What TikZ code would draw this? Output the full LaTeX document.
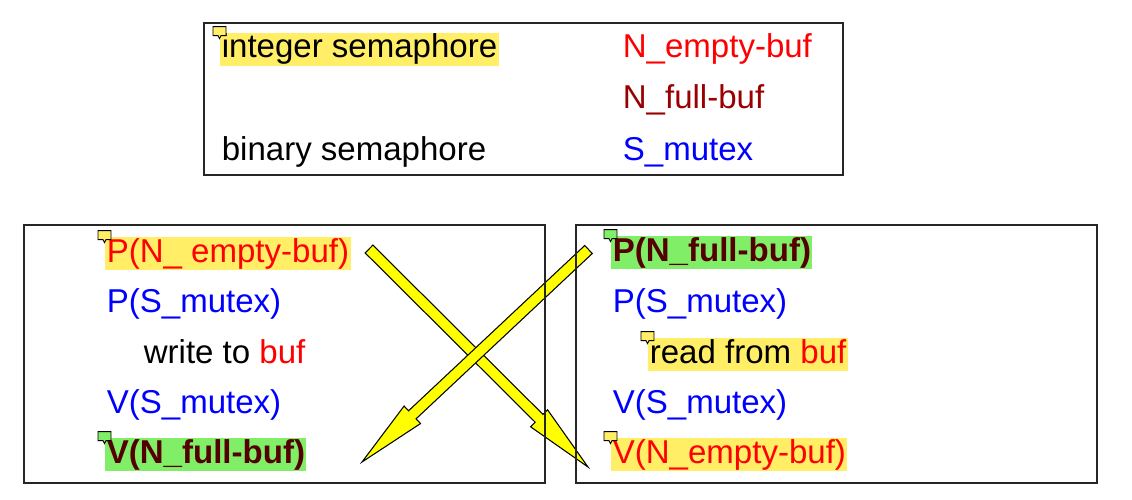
\documentclass[tikz,border=0pt]{standalone}
\usepackage{fontspec}
\setmainfont{Liberation Sans}
\usepackage{xcolor}
\usetikzlibrary{positioning,calc,fit}

\definecolor{hlyellow}{HTML}{FFEE66}
\definecolor{hlgreen}{HTML}{80EE66}
\definecolor{darkbold}{HTML}{550000}
\definecolor{fullred}{HTML}{990000}
\definecolor{mutexblue}{HTML}{0000FF}
\definecolor{arrowyellow}{HTML}{FFFF00}

% small comment marker on the corner of a highlight
\newcommand{\notemark}[2]{%
  \draw[notebox, fill=#2] ($(#1.north west)+(-7,-6)$) -- ++(13,0) -- ++(0,9)
    -- ++(-5,0) -- ++(-1.5,3) -- ++(-1.5,-3) -- ++(-5,0) -- cycle;}

% fat arrow from #1 (tail) to #2 (tip)
\newcommand{\blockarrow}[2]{%
  \coordinate (hb) at ($(#2)!1.38cm!(#1)$);
  \draw[blockarr] ($(#1)!0.11cm!90:(#2)$) -- ($(hb)!0.11cm!90:(#2)$)
    -- ($(hb)!0.24cm!90:(#2)$) -- (#2) -- ($(hb)!0.24cm!-90:(#2)$)
    -- ($(hb)!0.11cm!-90:(#2)$) -- ($(#1)!0.11cm!-90:(#2)$) -- cycle;}

\begin{document}
\begin{tikzpicture}[
    x=0.02cm, y=-0.02cm,
    txt/.style={anchor=base west, inner xsep=0.03cm, inner ysep=0pt,
      text height=0.5cm, text depth=0.16cm,
      font=\fontsize{18.8pt}{22pt}\selectfont},
    hly/.style={txt, fill=hlyellow},
    hlg/.style={txt, fill=hlgreen, text=darkbold,
      font=\fontsize{18.8pt}{22pt}\selectfont\bfseries},
    frame/.style={draw=black!85, line width=0.8pt, inner sep=0pt},
    notebox/.style={draw=black, line width=0.5pt, line join=miter},
    blockarr/.style={draw=black, fill=arrowyellow, line width=0.6pt, line join=miter}
]
\useasboundingbox (0,0) rectangle (1132,500);

% Crossing arrows
\coordinate (a1s) at (369,249);
\coordinate (a1t) at (588,467);
\coordinate (a2s) at (588.5,249.5);
\coordinate (a2t) at (362,462);
\blockarrow{a1s}{a1t}
\blockarrow{a2s}{a2t}

% Frames
\node[frame, fit={(204,23) (843,175)}] (legend) {};
\node[frame, fit={(24,225) (545,483)}] (producer) {};
\node[frame, fit={(576,225) (1097,483)}] (consumer) {};

% Legend
\node[hly] (intsem) at (220,58) {integer semaphore};
\node[txt, text=red] (emptyN) at (621,58) {N\_empty-buf};
\node[txt, text=fullred] (fullN) at (621,109) {N\_full-buf};
\node[txt] (binsem) at (220,160) {binary semaphore};
\node[txt, text=mutexblue] (mutexS) at (621,160) {S\_mutex};
\notemark{intsem}{hlyellow}

% Producer
\node[hly, text=red] (pempty) at (105,262) {P(N\_ empty-buf)};
\node[txt, text=mutexblue] (pmutexL) at (105,312) {P(S\_mutex)};
\node[txt] (writebuf) at (142,363) {write to \textcolor{red}{buf}};
\node[txt, text=mutexblue] (vmutexL) at (105,413) {V(S\_mutex)};
\node[hlg] (vfull) at (105,463) {V(N\_full-buf)};
\notemark{pempty}{hlyellow}
\notemark{vfull}{hlgreen}

% Consumer
\node[hlg] (pfull) at (611,261) {P(N\_full-buf)};
\node[txt, text=mutexblue] (pmutexR) at (611,312) {P(S\_mutex)};
\node[hly] (readbuf) at (648,363) {read from \textcolor{red}{buf}};
\node[txt, text=mutexblue] (vmutexR) at (611,413) {V(S\_mutex)};
\node[hly, text=red] (vempty) at (611,463) {V(N\_empty-buf)};
\notemark{pfull}{hlgreen}
\notemark{readbuf}{hlyellow}
\notemark{vempty}{hlyellow}

\end{tikzpicture}
\end{document}
